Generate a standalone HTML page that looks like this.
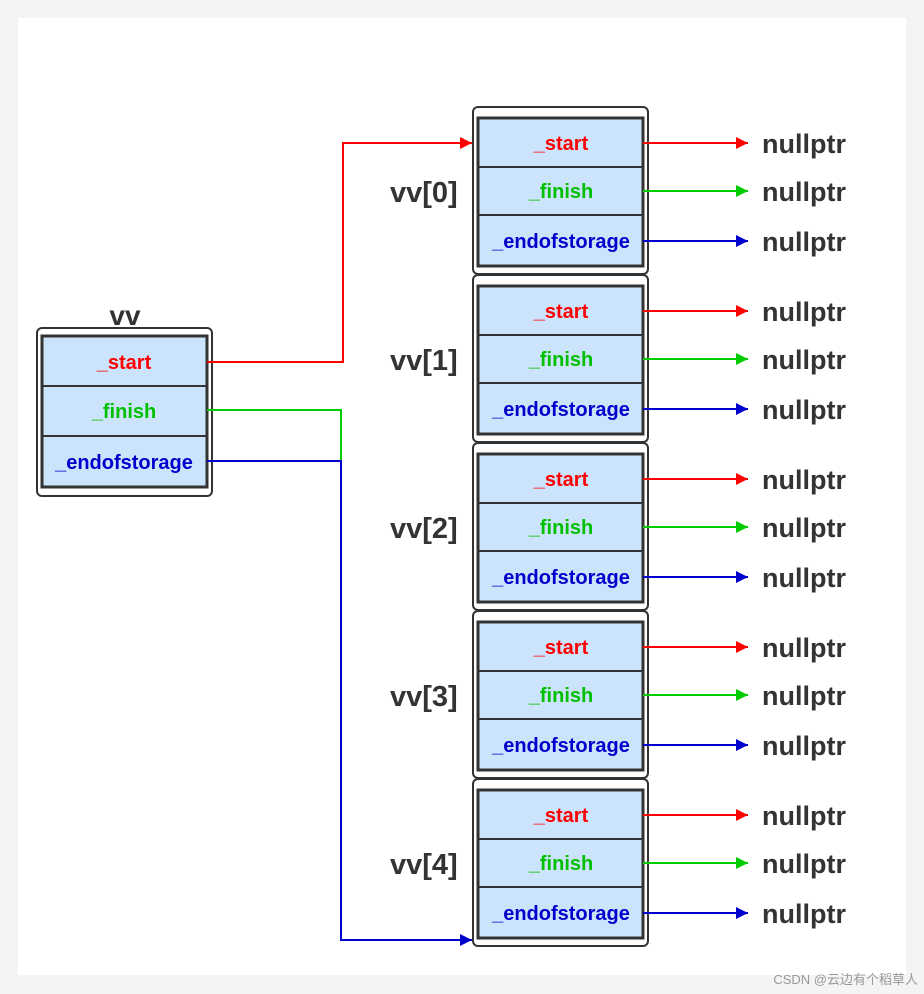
<!DOCTYPE html>
<html><head><style>
html,body{margin:0;padding:0;background:#f4f4f4;}
svg{display:block;}
text{font-family:"Liberation Sans","DejaVu Sans",sans-serif;font-weight:bold;}
.bo{fill:#fff;stroke:#333;stroke-width:2}
.bi{fill:#cce4fb;stroke:#333;stroke-width:3}
.sep{stroke:#333;stroke-width:2}
.f{font-size:20px;text-anchor:middle}
.n{font-size:27px;fill:#333}
.l{font-size:29px;fill:#333}
</style></head><body>
<svg width="924" height="994" xmlns="http://www.w3.org/2000/svg">
<defs>
<marker id="ar" viewBox="0 0 10 10" refX="10" refY="5" markerWidth="18" markerHeight="12" markerUnits="userSpaceOnUse" orient="auto"><path d="M0,0 L10,5 L0,10 z" fill="#f00"/></marker>
<marker id="ag" viewBox="0 0 10 10" refX="10" refY="5" markerWidth="18" markerHeight="12" markerUnits="userSpaceOnUse" orient="auto"><path d="M0,0 L10,5 L0,10 z" fill="#00cc00"/></marker>
<marker id="ab" viewBox="0 0 10 10" refX="10" refY="5" markerWidth="18" markerHeight="12" markerUnits="userSpaceOnUse" orient="auto"><path d="M0,0 L10,5 L0,10 z" fill="#0000cc"/></marker>
</defs>
<rect x="18" y="18" width="888" height="957" fill="#fff"/>

<text x="125" y="325" font-size="28" fill="#333" text-anchor="middle">vv</text>
<rect x="37" y="328" width="175" height="168" rx="5" class="bo"/>
<rect x="42" y="336" width="165" height="151" class="bi"/>
<line x1="42" y1="386" x2="207" y2="386" class="sep"/>
<line x1="42" y1="436" x2="207" y2="436" class="sep"/>
<text x="124" y="369" class="f" fill="#f00">_start</text>
<text x="124" y="418" class="f" fill="#00c000">_finish</text>
<text x="124" y="469" class="f" fill="#0000cc">_endofstorage</text>

<polyline points="207,362 343,362 343,143 472,143" fill="none" stroke="#f00" stroke-width="2" marker-end="url(#ar)"/>
<polyline points="207,410 341,410 341,461" fill="none" stroke="#00cc00" stroke-width="2"/>
<polyline points="207,461 341,461 341,940 472,940" fill="none" stroke="#0000cc" stroke-width="2" marker-end="url(#ab)"/>

<g transform="translate(0,0)">
<rect x="473" y="107" width="175" height="167" rx="5" class="bo"/>
<rect x="478" y="118" width="165" height="148" class="bi"/>
<line x1="478" y1="167" x2="643" y2="167" class="sep"/>
<line x1="478" y1="215" x2="643" y2="215" class="sep"/>
<text x="561" y="150" class="f" fill="#f00">_start</text>
<text x="561" y="198" class="f" fill="#00c000">_finish</text>
<text x="561" y="248" class="f" fill="#0000cc">_endofstorage</text>
<line x1="643" y1="143" x2="748" y2="143" stroke="#f00" stroke-width="2" marker-end="url(#ar)"/>
<line x1="643" y1="191" x2="748" y2="191" stroke="#00cc00" stroke-width="2" marker-end="url(#ag)"/>
<line x1="643" y1="241" x2="748" y2="241" stroke="#0000cc" stroke-width="2" marker-end="url(#ab)"/>
<text x="762" y="153" class="n">nullptr</text>
<text x="762" y="201" class="n">nullptr</text>
<text x="762" y="251" class="n">nullptr</text>
<text x="390" y="202" class="l">vv[0]</text>
</g>

<g transform="translate(0,168)">
<rect x="473" y="107" width="175" height="167" rx="5" class="bo"/>
<rect x="478" y="118" width="165" height="148" class="bi"/>
<line x1="478" y1="167" x2="643" y2="167" class="sep"/>
<line x1="478" y1="215" x2="643" y2="215" class="sep"/>
<text x="561" y="150" class="f" fill="#f00">_start</text>
<text x="561" y="198" class="f" fill="#00c000">_finish</text>
<text x="561" y="248" class="f" fill="#0000cc">_endofstorage</text>
<line x1="643" y1="143" x2="748" y2="143" stroke="#f00" stroke-width="2" marker-end="url(#ar)"/>
<line x1="643" y1="191" x2="748" y2="191" stroke="#00cc00" stroke-width="2" marker-end="url(#ag)"/>
<line x1="643" y1="241" x2="748" y2="241" stroke="#0000cc" stroke-width="2" marker-end="url(#ab)"/>
<text x="762" y="153" class="n">nullptr</text>
<text x="762" y="201" class="n">nullptr</text>
<text x="762" y="251" class="n">nullptr</text>
<text x="390" y="202" class="l">vv[1]</text>
</g>

<g transform="translate(0,336)">
<rect x="473" y="107" width="175" height="167" rx="5" class="bo"/>
<rect x="478" y="118" width="165" height="148" class="bi"/>
<line x1="478" y1="167" x2="643" y2="167" class="sep"/>
<line x1="478" y1="215" x2="643" y2="215" class="sep"/>
<text x="561" y="150" class="f" fill="#f00">_start</text>
<text x="561" y="198" class="f" fill="#00c000">_finish</text>
<text x="561" y="248" class="f" fill="#0000cc">_endofstorage</text>
<line x1="643" y1="143" x2="748" y2="143" stroke="#f00" stroke-width="2" marker-end="url(#ar)"/>
<line x1="643" y1="191" x2="748" y2="191" stroke="#00cc00" stroke-width="2" marker-end="url(#ag)"/>
<line x1="643" y1="241" x2="748" y2="241" stroke="#0000cc" stroke-width="2" marker-end="url(#ab)"/>
<text x="762" y="153" class="n">nullptr</text>
<text x="762" y="201" class="n">nullptr</text>
<text x="762" y="251" class="n">nullptr</text>
<text x="390" y="202" class="l">vv[2]</text>
</g>

<g transform="translate(0,504)">
<rect x="473" y="107" width="175" height="167" rx="5" class="bo"/>
<rect x="478" y="118" width="165" height="148" class="bi"/>
<line x1="478" y1="167" x2="643" y2="167" class="sep"/>
<line x1="478" y1="215" x2="643" y2="215" class="sep"/>
<text x="561" y="150" class="f" fill="#f00">_start</text>
<text x="561" y="198" class="f" fill="#00c000">_finish</text>
<text x="561" y="248" class="f" fill="#0000cc">_endofstorage</text>
<line x1="643" y1="143" x2="748" y2="143" stroke="#f00" stroke-width="2" marker-end="url(#ar)"/>
<line x1="643" y1="191" x2="748" y2="191" stroke="#00cc00" stroke-width="2" marker-end="url(#ag)"/>
<line x1="643" y1="241" x2="748" y2="241" stroke="#0000cc" stroke-width="2" marker-end="url(#ab)"/>
<text x="762" y="153" class="n">nullptr</text>
<text x="762" y="201" class="n">nullptr</text>
<text x="762" y="251" class="n">nullptr</text>
<text x="390" y="202" class="l">vv[3]</text>
</g>

<g transform="translate(0,672)">
<rect x="473" y="107" width="175" height="167" rx="5" class="bo"/>
<rect x="478" y="118" width="165" height="148" class="bi"/>
<line x1="478" y1="167" x2="643" y2="167" class="sep"/>
<line x1="478" y1="215" x2="643" y2="215" class="sep"/>
<text x="561" y="150" class="f" fill="#f00">_start</text>
<text x="561" y="198" class="f" fill="#00c000">_finish</text>
<text x="561" y="248" class="f" fill="#0000cc">_endofstorage</text>
<line x1="643" y1="143" x2="748" y2="143" stroke="#f00" stroke-width="2" marker-end="url(#ar)"/>
<line x1="643" y1="191" x2="748" y2="191" stroke="#00cc00" stroke-width="2" marker-end="url(#ag)"/>
<line x1="643" y1="241" x2="748" y2="241" stroke="#0000cc" stroke-width="2" marker-end="url(#ab)"/>
<text x="762" y="153" class="n">nullptr</text>
<text x="762" y="201" class="n">nullptr</text>
<text x="762" y="251" class="n">nullptr</text>
<text x="390" y="202" class="l">vv[4]</text>
</g>

<text x="918" y="984" font-size="13" fill="#999" text-anchor="end" style="font-weight:normal;font-family:'Liberation Sans','Noto Sans CJK SC',sans-serif">CSDN @云边有个稻草人</text>
</svg>
</body></html>
